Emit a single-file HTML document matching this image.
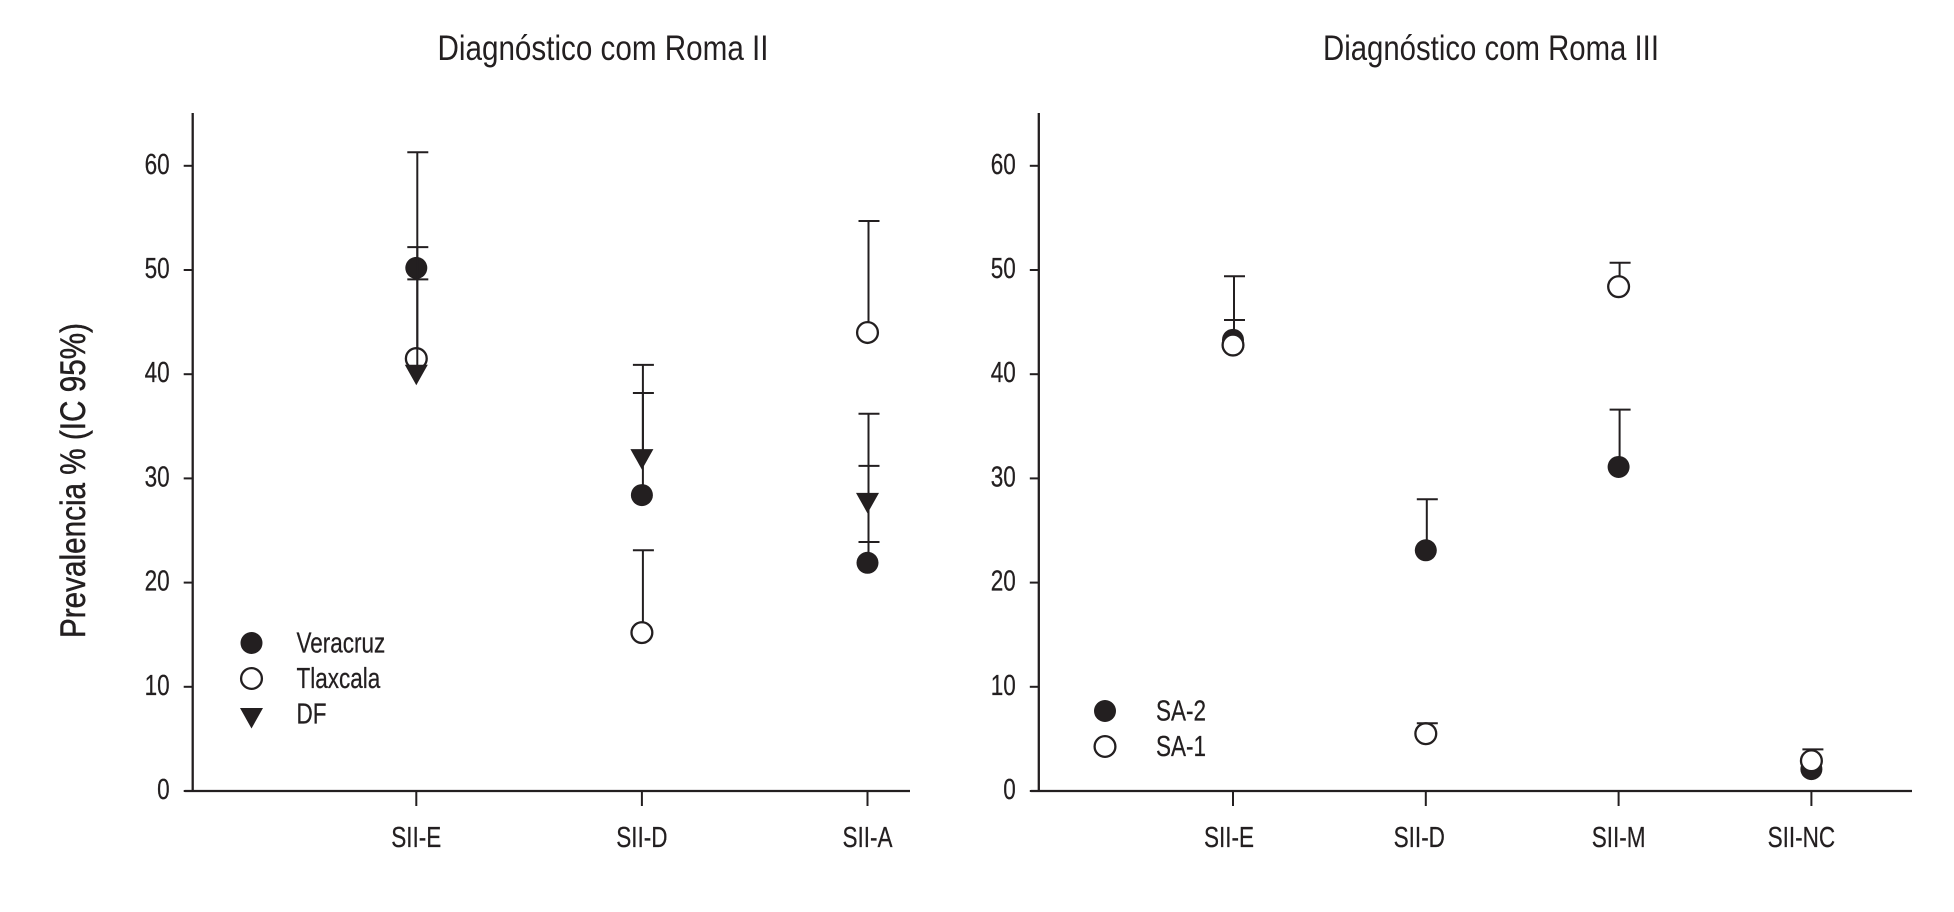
<!DOCTYPE html>
<html lang="pt">
<head>
<meta charset="utf-8">
<title>Prevalencia por diagnóstico com Roma II e Roma III</title>
<style>
  html, body { margin: 0; padding: 0; background: #fff; }
  svg { display: block; }
  text { font-family: "Liberation Sans", sans-serif; fill: #231f20; }
</style>
</head>
<body>
<svg id="chart" xmlns="http://www.w3.org/2000/svg" width="1954" height="912" viewBox="0 0 1954 912">
  <rect x="0" y="0" width="1954" height="912" fill="#fff"/>
  <text x="437.5" y="60" font-size="35" textLength="331" lengthAdjust="spacingAndGlyphs">Diagnóstico com Roma II</text>
  <text x="1323" y="60" font-size="35" textLength="336" lengthAdjust="spacingAndGlyphs">Diagnóstico com Roma III</text>
  <text transform="translate(85,638) rotate(-90)" font-size="35" textLength="315" lengthAdjust="spacingAndGlyphs" stroke="#231f20" stroke-width="0.5">Prevalencia % (IC 95%)</text>
</svg>
<script>
// Shared axis ticks
const yTickLabels = [0, 10, 20, 30, 40, 50, 60];

// Left panel: Roma II
const romaIICategories = ['SII-E', 'SII-D', 'SII-A'];
const veracruzValues = [50.2, 28.4, 21.9];
const veracruzUpper = [61.3, 38.2, 31.2];
const tlaxcalaValues = [41.5, 15.2, 44];
const tlaxcalaUpper = [52.2, 23.1, 54.7];
const dfValues = [40, 31.9, 27.7];
const dfUpper = [49.1, 40.9, 36.2];
const dfLower = [null, null, 23.9];

// Right panel: Roma III
const romaIIICategories = ['SII-E', 'SII-D', 'SII-M', 'SII-NC'];
const sa2Values = [43.3, 23.1, 31.1, 2.1];
const sa2Upper = [45.2, 28, 36.6, null];
const sa1Values = [42.8, 5.5, 48.4, 2.9];
const sa1Upper = [49.4, 6.5, 50.7, 4];

const SVG_NS = 'http://www.w3.org/2000/svg';
const root = document.getElementById('chart');
const INK = '#231f20';

function shape(tag, attrs) {
  const el = document.createElementNS(SVG_NS, tag);
  for (const key in attrs) el.setAttribute(key, attrs[key]);
  root.appendChild(el);
  return el;
}

function drawMarker(kind, cx, cy, name) {
  let el;
  if (kind === 'triangle') {
    el = shape('polygon', {
      points: (cx - 11.5) + ',' + (cy - 9.5) + ' ' + (cx + 11.5) + ',' + (cy - 9.5) + ' ' + cx + ',' + (cy + 11),
      fill: INK
    });
  } else if (kind === 'open') {
    el = shape('circle', { cx: cx, cy: cy, r: 10.4, fill: '#fff', stroke: INK, 'stroke-width': 2.3 });
  } else {
    el = shape('circle', { cx: cx, cy: cy, r: 11, fill: INK });
  }
  
  
}

function drawLine(x1, y1, x2, y2, width, name) {
  const el = shape('line', { x1: x1, y1: y1, x2: x2, y2: y2, stroke: INK, 'stroke-width': width });
  
  
}

function drawText(str, x, y, anchor, name) {
  const el = shape('text', {
    transform: 'translate(' + x + ',' + y + ') scale(0.79,1)',
    'font-size': 28.5,
    'text-anchor': anchor,
    stroke: INK,
    'stroke-width': 0.25
  });
  el.textContent = str;
  
  
}

function drawPanel(panel) {
  const yScale = v => 791 - v * 10.42;
  const xScale = i => panel.categoryX(i);

  drawLine(panel.axisX, 113, panel.axisX, 792, 2.3, panel.id + '-y-axis');
  drawLine(panel.axisX - 8, 791, panel.axisEnd, 791, 2.3, panel.id + '-x-axis');

  yTickLabels.forEach(t => {
    const y = yScale(t);
    drawLine(panel.axisX - 9, y, panel.axisX, y, 2, panel.id + '-y-tick-' + t);
    drawText(String(t), panel.axisX - 23, y + 8, 'end', panel.id + '-y-label-' + t);
  });

  panel.categories.forEach((c, i) => {
    const x = xScale(i);
    drawLine(x, 791, x, 806, 2, panel.id + '-x-tick-' + c);
    drawText(c, x + panel.labelNudge(i), 847, 'middle', panel.id + '-x-label-' + c);
  });

  panel.series.forEach(s => {
    s.values.forEach((v, i) => {
      const x = xScale(i);
      const tag = panel.id + '-' + s.id + '-' + panel.categories[i];
      [s.upper, s.lower].forEach(bound => {
        if (!bound || bound[i] === null) return;
        drawLine(x + 1, yScale(v), x + 1, yScale(bound[i]), 2, tag + '-error-bar');
        drawLine(x - 9, yScale(bound[i]), x + 12, yScale(bound[i]), 2, tag + '-error-cap');
      });
      drawMarker(s.kind, x, yScale(v), tag + '-point');
    });
  });

  panel.series.forEach((s, i) => {
    const y = panel.legendY + i * 35.5;
    const markerDrop = s.kind === 'triangle' ? 3.5 : 0;
    drawMarker(s.kind, panel.legendX, y + markerDrop, panel.id + '-legend-marker-' + s.id);
    drawText(s.label, panel.legendTextX, y + 9.5, 'start', panel.id + '-legend-entry-' + s.id);
  });
}

drawPanel({
  id: 'roma-ii',
  axisX: 192.7,
  axisEnd: 910,
  legendX: 251.5,
  legendTextX: 296.5,
  legendY: 643,
  categories: romaIICategories,
  categoryX: i => 416.3 + i * 225.6,
  labelNudge: i => 0,
  series: [
    { id: 'veracruz', label: 'Veracruz', kind: 'filled', values: veracruzValues, upper: veracruzUpper },
    { id: 'tlaxcala', label: 'Tlaxcala', kind: 'open', values: tlaxcalaValues, upper: tlaxcalaUpper },
    { id: 'df', label: 'DF', kind: 'triangle', values: dfValues, upper: dfUpper, lower: dfLower }
  ]
});

drawPanel({
  id: 'roma-iii',
  axisX: 1038.8,
  axisEnd: 1912,
  legendX: 1105,
  legendTextX: 1156,
  legendY: 711,
  categories: romaIIICategories,
  categoryX: i => 1233 + i * 192.8,
  labelNudge: i => (i === 3 ? -10 : i === 2 ? 0 : i === 1 ? -6.5 : -4),
  series: [
    { id: 'sa2', label: 'SA-2', kind: 'filled', values: sa2Values, upper: sa2Upper },
    { id: 'sa1', label: 'SA-1', kind: 'open', values: sa1Values, upper: sa1Upper }
  ]
});
</script>
</body>
</html>
